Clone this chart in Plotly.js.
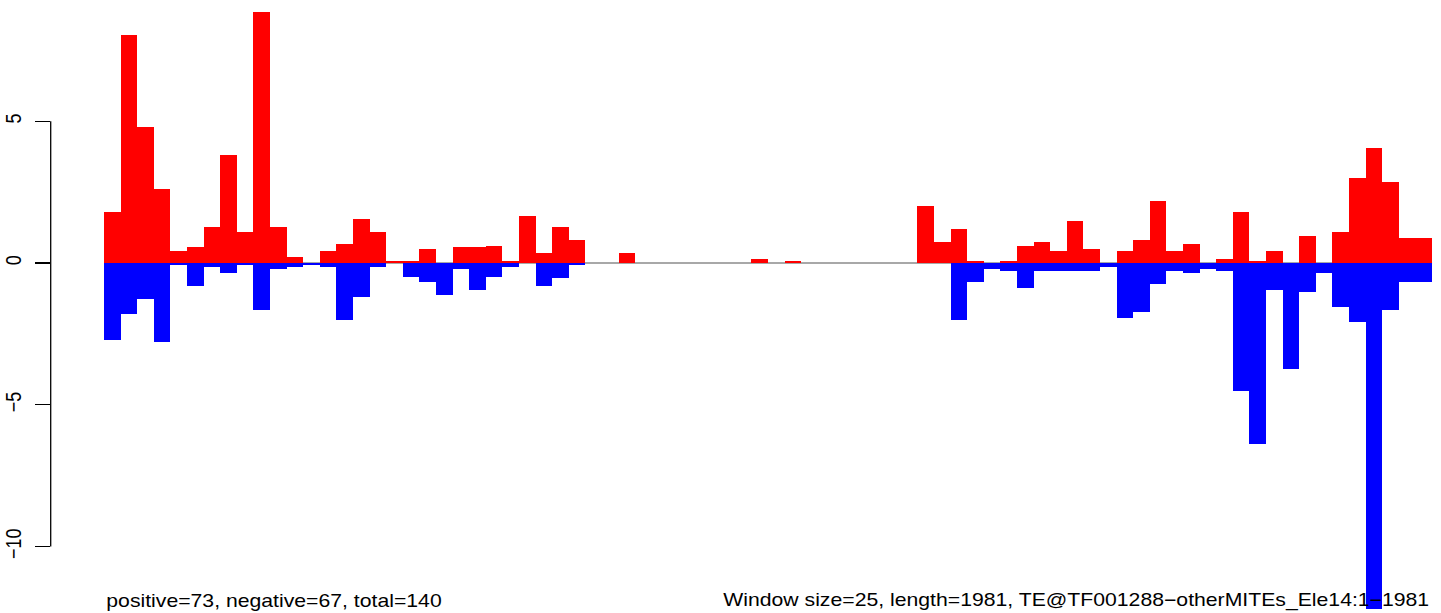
<!DOCTYPE html>
<html>
<head>
<meta charset="utf-8">
<script src="https://cdn.plot.ly/plotly-3.0.1.min.js"></script>
<style>
  html, body { margin: 0; padding: 0; background: #ffffff; overflow: hidden; }
  #wrap { width: 1441px; height: 613px; overflow: hidden; }
  #chart { width: 1222px; height: 613px; transform-origin: 0 0; }
</style>
</head>
<body>
<div id="wrap"><div id="chart"></div></div>
<script>
// Window index (1..80), window size 25 bp over a 1981 bp element
const windowIndex = [
  1,2,3,4,5,6,7,8,9,10,11,12,13,14,15,16,17,18,19,20,
  21,22,23,24,25,26,27,28,29,30,31,32,33,34,35,36,37,38,39,40,
  41,42,43,44,45,46,47,48,49,50,51,52,53,54,55,56,57,58,59,60,
  61,62,63,64,65,66,67,68,69,70,71,72,73,74,75,76,77,78,79,80
];

// Positive-strand signal per window
const positiveValues = [
  1.80, 8.03, 4.79, 2.61, 0.42, 0.56, 1.27, 3.80, 1.09, 8.87,
  1.27, 0.21, 0.00, 0.42, 0.67, 1.55, 1.09, 0.07, 0.07, 0.49,
  0.00, 0.56, 0.56, 0.60, 0.07, 1.65, 0.35, 1.27, 0.81, 0.00,
  0.00, 0.35, 0.00, 0.00, 0.00, 0.00, 0.00, 0.00, 0.00, 0.14,
  0.00, 0.07, 0.00, 0.00, 0.00, 0.00, 0.00, 0.00, 0.00, 2.01,
  0.74, 1.20, 0.07, 0.00, 0.07, 0.60, 0.74, 0.42, 1.48, 0.49,
  0.00, 0.42, 0.81, 2.18, 0.42, 0.67, 0.00, 0.14, 1.80, 0.07,
  0.42, 0.00, 0.95, 0.00, 1.09, 2.99, 4.05, 2.85, 0.88, 0.88
];

// Negative-strand signal per window
const negativeValues = [
  -2.71, -1.79, -1.27, -2.78, -0.07, -0.81, -0.14, -0.35, -0.07, -1.65,
  -0.21, -0.14, -0.07, -0.14, -2.00, -1.20, -0.14,  0.00, -0.49, -0.67,
  -1.13, -0.21, -0.95, -0.49, -0.14,  0.00, -0.81, -0.53, -0.07,  0.00,
   0.00,  0.00,  0.00,  0.00,  0.00,  0.00,  0.00,  0.00,  0.00,  0.00,
   0.00,  0.00,  0.00,  0.00,  0.00,  0.00,  0.00,  0.00,  0.00,  0.00,
   0.00, -2.00, -0.67, -0.21, -0.28, -0.88, -0.28, -0.28, -0.28, -0.28,
  -0.14, -1.94, -1.73, -0.74, -0.28, -0.35, -0.21, -0.28, -4.50, -6.38,
  -0.95, -3.74, -1.02, -0.35, -1.55, -2.08, -12.20, -1.65, -0.67, -0.67
];

// Y-axis ticks
const yTickValues = [-10, -5, 0, 5];

// Footer texts
const leftLabel = "positive=73, negative=67, total=140";
const rightLabel = "Window size=25, length=1981, TE@TF001288\u2212otherMITEs_Ele14:1\u22121981";

const FONT = "Liberation Sans, Arial, Helvetica, sans-serif";
const FONT_SIZE = 18;

// The reference image is horizontally stretched; reproduce that with a CSS scale.
const PAGE_W = 1441, INNER_W = 1222;
const STRETCH = PAGE_W / INNER_W;
document.getElementById("chart").style.transform = "scaleX(" + STRETCH + ")";

const firstEdge = windowIndex[0] - 0.5;
const lastEdge = windowIndex[windowIndex.length - 1] + 0.5;

const traces = [
  {
    type: "bar",
    x: windowIndex,
    y: positiveValues,
    width: 1,
    marker: { color: "#ff0000", line: { width: 0 } },
    hoverinfo: "x+y",
    showlegend: false
  },
  {
    type: "bar",
    x: windowIndex,
    y: negativeValues,
    width: 1,
    marker: { color: "#0000ff", line: { width: 0 } },
    hoverinfo: "x+y",
    showlegend: false
  }
];

const layout = {
  width: INNER_W,
  height: 613,
  margin: { l: 43, r: 0, t: 0, b: 0, pad: 0 },
  paper_bgcolor: "#ffffff",
  plot_bgcolor: "#ffffff",
  barmode: "overlay",
  bargap: 0,
  showlegend: false,
  font: { family: FONT, size: FONT_SIZE, color: "#000000" },
  xaxis: {
    range: [-2.711, 81.04],
    visible: false,
    showgrid: false,
    zeroline: false,
    fixedrange: true
  },
  yaxis: {
    range: [-12.346, 9.277],
    tickvals: yTickValues,
    ticktext: yTickValues.map(v => (v < 0 ? "\u2212" + Math.abs(v) : String(v))),
    tickangle: -90,
    ticks: "outside",
    ticklen: 12,
    tickwidth: 1.3,
    tickcolor: "#000000",
    tickfont: { family: FONT, size: FONT_SIZE, color: "#000000" },
    ticklabelstandoff: 5,
    showline: false,
    showgrid: false,
    zeroline: false,
    fixedrange: true
  },
  shapes: [
    {
      type: "line",
      layer: "below",
      xref: "x", yref: "y",
      x0: firstEdge, x1: lastEdge, y0: 0, y1: 0,
      line: { color: "#a8a8a8", width: 2 }
    },
    {
      type: "line",
      layer: "above",
      xref: "paper", yref: "y",
      x0: 0, x1: 0,
      y0: Math.min(...yTickValues), y1: Math.max(...yTickValues),
      line: { color: "#000000", width: 1.1 }
    }
  ],
  annotations: [
    {
      xref: "x", yref: "paper",
      x: firstEdge, y: 0,
      xanchor: "left", yanchor: "bottom",
      showarrow: false,
      text: leftLabel,
      font: { family: FONT, size: FONT_SIZE, color: "#000000" }
    },
    {
      xref: "x", yref: "paper",
      x: lastEdge, y: 0,
      xanchor: "right", yanchor: "bottom",
      showarrow: false,
      text: rightLabel,
      font: { family: FONT, size: FONT_SIZE, color: "#000000" }
    }
  ]
};

Plotly.newPlot("chart", traces, layout, { staticPlot: true, displayModeBar: false });
</script>
</body>
</html>
